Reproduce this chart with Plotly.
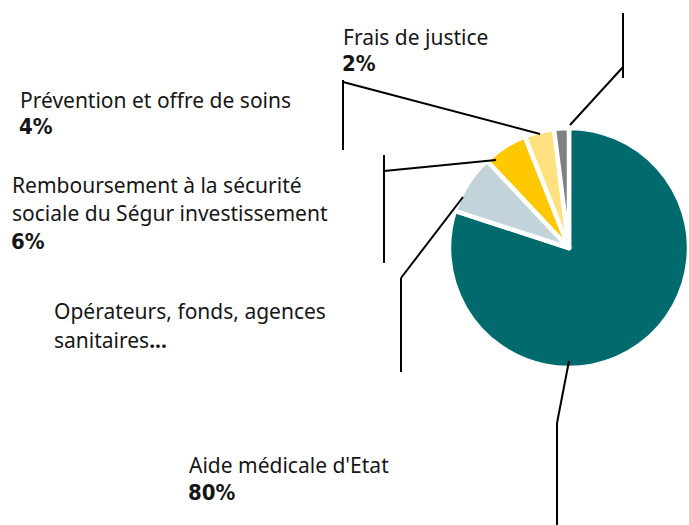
import plotly.graph_objects as go

W, H = 689, 525

# Budget breakdown (shares in %)
categories = [
    "Aide médicale d'Etat",
    "Opérateurs, fonds, agences sanitaires",
    "Remboursement à la sécurité sociale du Ségur investissement",
    "Prévention et offre de soins",
    "Frais de justice",
]
values = [80, 8, 6, 4, 2]
colors = ["#006A6C", "#C2D4D9", "#FFC800", "#FFE17F", "#808080"]

# label text lines per category (percentage line added below when shown)
label_lines = [
    ["Aide médicale d'Etat"],
    ["Opérateurs, fonds, agences", "sanitaires"],
    ["Remboursement à la sécurité", "sociale du Ségur investissement"],
    ["Prévention et offre de soins"],
    ["Frais de justice"],
]
show_pct = [True, False, True, True, True]

# label anchor (left x, centre y of first line) and line spacing, in pixels
label_pos = [(187, 465, 27), (52, 311, 29), (10, 185, 28), (18, 100, 26), (341, 37, 26)]

# leader line polylines, in pixels
leaders = [
    [(569, 361), (557, 423), (557, 525)],
    [(463, 197), (401, 278), (401, 372)],
    [(496, 160), (384, 171), (384, 155), (384, 263)],
    [(540, 134), (343, 82), (343, 80), (343, 150)],
    [(570, 125), (623, 67), (623, 13), (623, 78)],
]

def px(x):
    return x / W

def py(y):
    return 1 - y / H

fig = go.Figure(
    go.Pie(
        labels=categories,
        values=values,
        sort=False,
        direction="clockwise",
        rotation=0,
        marker=dict(colors=colors, line=dict(color="white", width=4.5)),
        textinfo="none",
        hoverinfo="label+percent",
        showlegend=False,
        domain=dict(x=[px(449), 1.0], y=[py(369), py(127)]),
    )
)

font_reg = "Noto Sans, Lato, sans-serif"
font_pct = "Liberation Sans Narrow, DejaVu Sans Condensed, Roboto Condensed, Arial Narrow, sans-serif"
annotations = []
for lines, pct, show, (lx, ly, step) in zip(label_lines, values, show_pct, label_pos):
    for i, line in enumerate(lines):
        txt = line
        if not show and i == len(lines) - 1:
            txt = line + "<b>...</b>"
        annotations.append(dict(
            x=px(lx), y=py(ly + i * step), xref="paper", yref="paper",
            text=txt, showarrow=False, xanchor="left", yanchor="middle",
            font=dict(family=font_reg, size=21, color="#161616"),
        ))
    if show:
        annotations.append(dict(
            x=px(lx - 1), y=py(ly + len(lines) * step), xref="paper", yref="paper",
            text=f"<b>{pct}%</b>", showarrow=False, xanchor="left", yanchor="middle",
            font=dict(family=font_pct, size=22, color="#161616"),
        ))

shapes = []
for pts in leaders:
    for (x0, y0), (x1, y1) in zip(pts[:-1], pts[1:]):
        shapes.append(dict(
            type="line", xref="paper", yref="paper",
            x0=px(x0), y0=py(y0), x1=px(x1), y1=py(y1),
            line=dict(color="black", width=2),
        ))

fig.update_layout(
    width=W, height=H,
    margin=dict(l=0, r=0, t=0, b=0),
    paper_bgcolor="white",
    plot_bgcolor="white",
    annotations=annotations,
    shapes=shapes,
)

fig.write_html("out.html")
